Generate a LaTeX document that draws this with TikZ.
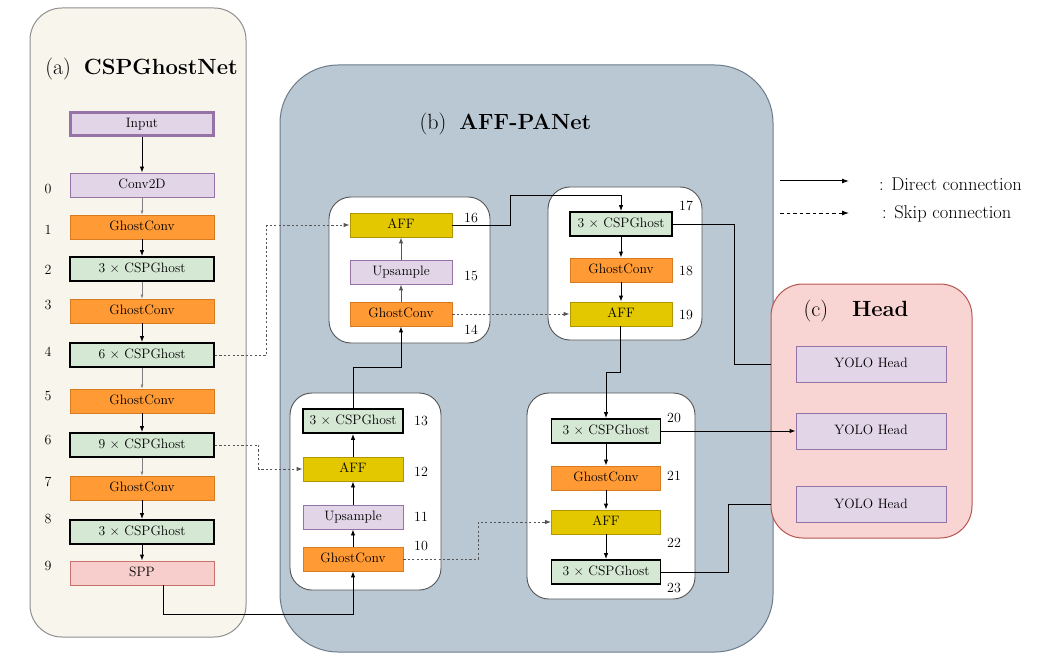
\documentclass[tikz,border=0pt]{standalone}
\usepackage{fontspec}
\usetikzlibrary{arrows.meta}
\definecolor{creamfill}{HTML}{F7F5EC}
\definecolor{panelgray}{HTML}{8F8F8F}
\definecolor{bluefill}{HTML}{BAC8D3}
\definecolor{blueline}{HTML}{6B7B8A}
\definecolor{headfill}{HTML}{F8D5D2}
\definecolor{headline}{HTML}{B85450}
\definecolor{lavfill}{HTML}{E1D5E7}
\definecolor{lavline}{HTML}{9673A6}
\definecolor{orfill}{HTML}{FF9A35}
\definecolor{orline}{HTML}{D77A20}
\definecolor{grfill}{HTML}{D5E8D4}
\definecolor{yefill}{HTML}{E3C800}
\definecolor{yeline}{HTML}{B09500}
\definecolor{pkfill}{HTML}{F8CECC}
\definecolor{pkline}{HTML}{C8706C}
\definecolor{linegray}{HTML}{555555}
\begin{document}
\begin{tikzpicture}[x=1pt,y=-1pt,
  txt/.style={font=\fontsize{13.6}{16}\selectfont, inner sep=0pt},
  boxbase/.style={txt, minimum height=24pt, text height=9.5pt, text depth=2.5pt},
  lav/.style={boxbase, draw=lavline, fill=lavfill, line width=0.9pt},
  orb/.style={boxbase, draw=orline, fill=orfill, line width=0.9pt},
  grb/.style={boxbase, draw=black, fill=grfill, line width=1.8pt},
  yeb/.style={boxbase, draw=yeline, fill=yefill, line width=0.9pt},
  pkb/.style={boxbase, draw=pkline, fill=pkfill, line width=0.9pt},
  lnum/.style={font=\fontsize{14}{16}\selectfont, inner sep=0pt},
  ttl/.style={font=\fontsize{22}{25}\selectfont, inner sep=0pt},
  inner/.style={draw=linegray, fill=white, line width=0.9pt, rounded corners=22pt, inner sep=0pt},
  arr/.style={draw=black, line width=0.9pt, -{Latex[length=6pt,width=4.5pt]}},
  garr/.style={draw=gray, line width=0.6pt, -{Latex[length=4pt,width=3pt]}},
  marr/.style={draw=linegray, line width=1pt, -{Latex[length=6pt,width=4.5pt]}},
  darr/.style={draw=linegray, line width=0.9pt, dash pattern=on 2.2pt off 2.2pt, -{Latex[length=6pt,width=4.5pt]}},
  conn/.style={draw=black, line width=0.9pt}
]
\useasboundingbox (0,0) rectangle (1046,671);

% panels
\node[draw=panelgray, fill=creamfill, line width=1pt, rounded corners=32pt, minimum width=216pt, minimum height=629pt, inner sep=0pt] (pa) at (138,322.5) {};
\node[draw=blueline, fill=bluefill, line width=1pt, rounded corners=58pt, minimum width=493pt, minimum height=587pt, inner sep=0pt] (pb) at (526.5,358.5) {};
\node[draw=headline, fill=headfill, line width=1pt, rounded corners=32pt, minimum width=201pt, minimum height=254pt, inner sep=0pt] (pc) at (871.5,411) {};

\node[ttl] (ta) at (141.5,69) {(a)\hspace{13pt}\textbf{CSPGhostNet}};
\node[ttl] (tb) at (505.5,124) {(b)\hspace{13pt}\textbf{AFF-PANet}};
\node[ttl] (tc) at (856,311) {(c)\hspace{24pt}\textbf{Head}};

% inner boxes
\node[inner, minimum width=161pt, minimum height=146pt] (ibtl) at (409.5,270) {};
\node[inner, minimum width=154pt, minimum height=153pt] (ibtr) at (625,263.5) {};
\node[inner, minimum width=151pt, minimum height=197pt] (ibbl) at (365.5,491.5) {};
\node[inner, minimum width=168pt, minimum height=206pt] (ibbr) at (611,496) {};

% backbone
\node[lav, line width=3pt, minimum width=143pt, minimum height=23pt] (in) at (142,124.5) {Input};
\node[lav, minimum width=144pt] (c0) at (142,185) {Conv2D};
\node[orb, minimum width=144pt] (c1) at (142,227) {GhostConv};
\node[grb, minimum width=144pt] (c2) at (142,269) {3 × CSPGhost};
\node[orb, minimum width=144pt] (c3) at (142,311) {GhostConv};
\node[grb, minimum width=144pt] (c4) at (142,355) {6 × CSPGhost};
\node[orb, minimum width=144pt] (c5) at (142,401) {GhostConv};
\node[grb, minimum width=144pt] (c6) at (142,445) {9 × CSPGhost};
\node[orb, minimum width=144pt] (c7) at (142,488) {GhostConv};
\node[grb, minimum width=144pt] (c8) at (142,532) {3 × CSPGhost};
\node[pkb, minimum width=144pt] (c9) at (142,573) {SPP};

\node[lnum] (l0) at (48,189) {0};
\node[lnum] (l1) at (48,230) {1};
\node[lnum] (l2) at (48,270) {2};
\node[lnum] (l3) at (48,305) {3};
\node[lnum] (l4) at (48,352) {4};
\node[lnum] (l5) at (48,396) {5};
\node[lnum] (l6) at (48,440) {6};
\node[lnum] (l7) at (48,482) {7};
\node[lnum] (l8) at (48,519) {8};
\node[lnum] (l9) at (48,566) {9};

% neck top-left
\node[yeb, minimum width=102pt] (n16) at (401,225) {AFF};
\node[lav, minimum width=102pt] (n15) at (401,272) {Upsample};
\node[orb, minimum width=102pt] (n14) at (401,314) {GhostConv};
% neck top-right
\node[grb, minimum width=102pt] (n17) at (621,224) {3 × CSPGhost};
\node[orb, minimum width=102pt] (n18) at (621,270) {GhostConv};
\node[yeb, minimum width=102pt] (n19) at (621,314) {AFF};
% neck bottom-left
\node[grb, minimum width=100pt] (n13) at (353,421) {3 × CSPGhost};
\node[yeb, minimum width=100pt] (n12) at (353,469) {AFF};
\node[lav, minimum width=100pt] (n11) at (353,517) {Upsample};
\node[orb, minimum width=100pt] (n10) at (353,559) {GhostConv};
% neck bottom-right
\node[grb, minimum width=109pt] (n20) at (606,431) {3 × CSPGhost};
\node[orb, minimum width=109pt] (n21) at (606,478) {GhostConv};
\node[yeb, minimum width=109pt] (n22) at (606,522) {AFF};
\node[grb, minimum width=109pt] (n23) at (606,572) {3 × CSPGhost};

\node[lnum] (k16) at (471,218) {16};
\node[lnum] (k15) at (471,276) {15};
\node[lnum] (k14) at (471,330) {14};
\node[lnum] (k17) at (686,206) {17};
\node[lnum] (k18) at (686,271) {18};
\node[lnum] (k19) at (686,315) {19};
\node[lnum] (k13) at (421,421) {13};
\node[lnum] (k12) at (421,472) {12};
\node[lnum] (k11) at (421,517) {11};
\node[lnum] (k10) at (421,546) {10};
\node[lnum] (k20) at (674,418) {20};
\node[lnum] (k21) at (674,476) {21};
\node[lnum] (k22) at (674,543) {22};
\node[lnum] (k23) at (674,588) {23};

% heads
\node[lav, minimum width=150pt, minimum height=36pt] (h1) at (871,364) {YOLO Head};
\node[lav, minimum width=150pt, minimum height=36pt] (h2) at (871,431) {YOLO Head};
\node[lav, minimum width=150pt, minimum height=36pt] (h3) at (871,504.5) {YOLO Head};

% legend
\coordinate (ld1) at (780,181);
\coordinate (ld2) at (849,181);
\coordinate (ls1) at (780,213);
\coordinate (ls2) at (849,213);
\draw[draw=black, line width=1pt, -{Latex[length=7pt,width=5pt]}] (ld1) -- (ld2);
\draw[draw=black, line width=0.9pt, dash pattern=on 3.5pt off 3pt, -{Latex[length=7pt,width=5pt]}] (ls1) -- (ls2);
\node[font=\fontsize{18.5}{21}\selectfont, inner sep=0pt, anchor=west] (lt1) at (879,184) {: Direct connection};
\node[font=\fontsize{18.5}{21}\selectfont, inner sep=0pt, anchor=west] (lt2) at (882,214) {: Skip connection};

% backbone connectors
\draw[arr] (in) -- (c0);
\draw[garr] (c0) -- (c1);
\draw[arr] (c1) -- (c2);
\draw[garr] (c2) -- (c3);
\draw[arr] (c3) -- (c4);
\draw[garr] (c4) -- (c5);
\draw[arr] (c5) -- (c6);
\draw[garr] (c6) -- (c7);
\draw[arr] (c7) -- (c8);
\draw[arr] (c8) -- (c9);
\draw[arr] ([xshift=21pt]c9.south) -- ++(0,29) -| (n10.south);

% skip connections
\draw[darr] (c4.east) -- ++(52,0) |- (n16.west);
\draw[darr] (c6.east) -- ++(44,0) |- (n12.west);
\draw[darr] (n14.east) -- (n19.west);
\draw[darr] (n10.east) -- ++(75,0) |- (n22.west);

% neck connectors
\draw[arr] (n10) -- (n11);
\draw[arr] (n11) -- (n12);
\draw[arr] (n12) -- (n13);
\draw[arr] (n13.north) -- ++(0,-41) -| (n14.south);
\draw[marr] (n14) -- (n15);
\draw[marr] (n15) -- (n16);
\draw[arr] (n16.east) -- ++(58,0) -- ++(0,-30) -| (n17.north);
\draw[arr] (n17) -- (n18);
\draw[arr] (n18) -- (n19);
\draw[arr] ([xshift=-1pt]n19.south) -- ++(0,46) -| (n20.north);
\draw[arr] (n20) -- (n21);
\draw[arr] (n21) -- (n22);
\draw[arr] (n22) -- (n23);

% to heads
\draw[conn] (n17.east) -- ++(62,0) |- (pc.west |- h1.west);
\draw[arr] (n20.east) -- (h2.west);
\draw[conn] (n23.east) -- ++(67,0) |- (pc.west |- h3.west);
\end{tikzpicture}
\end{document}
